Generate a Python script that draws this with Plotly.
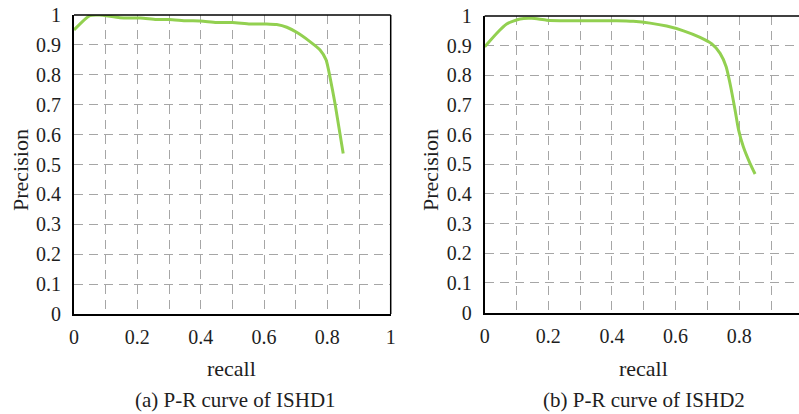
import plotly.graph_objects as go

# ---- data ----
recall_1 = [0.0, 0.05, 0.08, 0.145, 0.21, 0.26, 0.30, 0.356, 0.40, 0.45, 0.50, 0.556,
            0.608, 0.64, 0.672, 0.703, 0.745, 0.777, 0.796, 0.808, 0.824, 0.85]
precision_1 = [0.95, 0.998, 1.0, 0.991, 0.99, 0.985, 0.985, 0.981, 0.98, 0.975, 0.975, 0.97,
               0.97, 0.968, 0.959, 0.942, 0.911, 0.883, 0.85, 0.794, 0.705, 0.537]

recall_2 = [0.0, 0.038, 0.069, 0.111, 0.148, 0.195, 0.258, 0.363, 0.415, 0.467, 0.52, 0.572,
            0.625, 0.677, 0.714, 0.74, 0.759, 0.771, 0.787, 0.798, 0.813, 0.834, 0.85]
precision_2 = [0.896, 0.942, 0.973, 0.99, 0.992, 0.986, 0.984, 0.984, 0.984, 0.982, 0.976, 0.966,
               0.95, 0.928, 0.906, 0.874, 0.829, 0.773, 0.683, 0.616, 0.559, 0.503, 0.467]

x_tick_vals = [0, 0.2, 0.4, 0.6, 0.8, 1]
x_tick_text = ["0", "0.2", "0.4", "0.6", "0.8", "1"]
y_tick_vals = [0, 0.1, 0.2, 0.3, 0.4, 0.5, 0.6, 0.7, 0.8, 0.9, 1]
y_tick_text = ["0", "0.1", "0.2", "0.3", "0.4", "0.5", "0.6", "0.7", "0.8", "0.9", "1"]

captions = ["(a) P-R curve of ISHD1", "(b) P-R curve of ISHD2"]
x_title = "recall"
y_title = "Precision"

# ---- styling ----
W, H = 799, 414
FONT = "Liberation Serif"
TEXT_COLOR = "#1e1e1e"
LINE_COLOR = "#92D050"
GRID_COLOR = "#A6A6A6"
GRID_DASH = "9px,6px"

fig = go.Figure()
fig.add_trace(go.Scatter(x=recall_1, y=precision_1, mode="lines", xaxis="x", yaxis="y",
                         line=dict(color=LINE_COLOR, width=3, shape="spline", smoothing=0.6),
                         showlegend=False, hoverinfo="skip"))
fig.add_trace(go.Scatter(x=recall_2, y=precision_2, mode="lines", xaxis="x2", yaxis="y2",
                         line=dict(color=LINE_COLOR, width=3, shape="spline", smoothing=0.6),
                         showlegend=False, hoverinfo="skip"))

def px_x(p):
    return p / W

def px_y(p):
    return 1 - p / H

tick_font = dict(family=FONT, size=20, color=TEXT_COLOR)

common_x = dict(
    tickmode="array", tickvals=x_tick_vals, ticktext=x_tick_text,
    showgrid=True, gridcolor=GRID_COLOR, griddash=GRID_DASH, gridwidth=1.3,
    minor=dict(dtick=0.1, tick0=0, showgrid=True, gridcolor=GRID_COLOR,
               griddash=GRID_DASH, gridwidth=1.3),
    showline=True, linecolor="black", linewidth=2,
    ticks="outside", ticklen=4, tickcolor="rgba(0,0,0,0)",
    zeroline=False, automargin=False, fixedrange=True, tickfont=tick_font,
)
common_y = dict(
    tickmode="array", tickvals=y_tick_vals, ticktext=y_tick_text,
    showgrid=True, gridcolor=GRID_COLOR, griddash=GRID_DASH, gridwidth=1.3,
    showline=True, linecolor="black", linewidth=2,
    ticks="outside", ticklen=7, tickcolor="rgba(0,0,0,0)",
    zeroline=False, automargin=False, range=[0, 1], fixedrange=True, tickfont=tick_font,
)

fig.update_layout(
    width=W, height=H, autosize=False,
    margin=dict(l=0, r=0, t=0, b=0, pad=0),
    font=dict(family=FONT, size=20, color=TEXT_COLOR),
    paper_bgcolor="white", plot_bgcolor="white",
    showlegend=False,
    xaxis=dict(common_x, domain=[px_x(74), px_x(390.7)], range=[0, 1], anchor="y"),
    yaxis=dict(common_y, domain=[px_y(314), px_y(15)], anchor="x"),
    xaxis2=dict(common_x, domain=[px_x(484.7), 1.0], range=[0, 0.988], anchor="y2"),
    yaxis2=dict(common_y, domain=[px_y(312.5), px_y(16)], anchor="x2"),
)

# thin top/right borders
fig.add_shape(type="line", xref="x domain", yref="y domain", x0=0, x1=1, y0=1, y1=1,
              line=dict(color="black", width=1.5))
fig.add_shape(type="line", xref="x domain", yref="y domain", x0=1, x1=1, y0=0, y1=1,
              line=dict(color="black", width=1.5))
fig.add_shape(type="line", xref="x2 domain", yref="y2 domain", x0=0, x1=1, y0=1, y1=1,
              line=dict(color="black", width=1.5))

title_font = dict(family=FONT, size=22, color=TEXT_COLOR)
cap_font = dict(family=FONT, size=21, color=TEXT_COLOR)
# axis titles
for xc, yc, txt, ang in [(20, 170, y_title, -90), (430, 170, y_title, -90),
                         (232, 368, x_title, 0), (643, 368, x_title, 0)]:
    fig.add_annotation(x=px_x(xc), y=px_y(yc), xref="paper", yref="paper", text=txt,
                       showarrow=False, textangle=ang, font=title_font,
                       xanchor="center", yanchor="middle")
# captions
for xc, txt in [(235.5, captions[0]), (643.5, captions[1])]:
    fig.add_annotation(x=px_x(xc), y=px_y(400), xref="paper", yref="paper", text=txt,
                       showarrow=False, font=cap_font, xanchor="center", yanchor="middle")

fig.write_html(
    "out.html",
    config={"displayModeBar": False},
    post_script="document.body.style.margin='0';document.body.style.overflow='hidden';",
)
